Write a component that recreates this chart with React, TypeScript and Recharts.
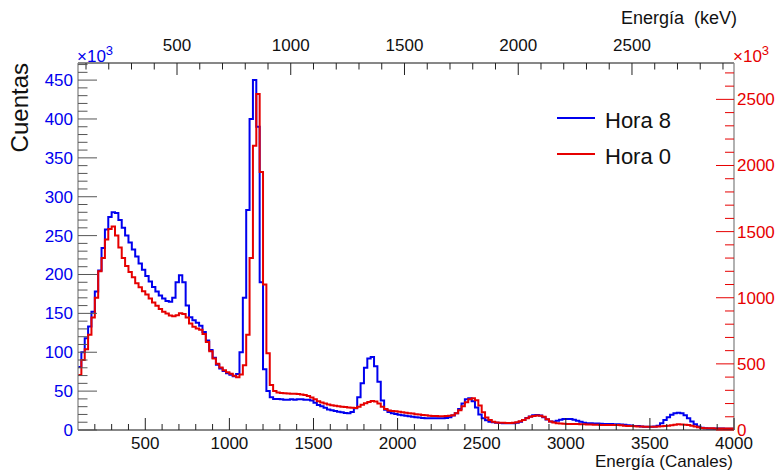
import React from 'react';
import { ComposedChart, Line, XAxis, YAxis } from 'recharts';

// Histogram bins: channel 100 .. 4000, 20 channels per bin
const BIN_START = 100;
const BIN_WIDTH = 20;
const X_MIN = 100;
const X_MAX = 4000;

// Hora 8 (left axis, x10^3 cuentas)
const hora8: number[] = [
  81, 100, 118, 133, 152, 178, 205, 234, 258, 274,
  280, 279, 270, 260, 250, 241, 232, 223, 214, 206,
  198, 191, 184, 178, 173, 169, 166, 165, 170, 190,
  199, 190, 160, 145, 141, 138, 134, 126, 115, 103,
  93, 84, 79, 76, 73, 71, 69, 72, 100, 170,
  283, 400, 450, 390, 190, 78, 50, 42, 40, 40,
  39.5, 39, 39, 39.5, 39, 39.5, 39.5, 39, 39, 38,
  35, 32, 30.5, 28.5, 26.5, 25.5, 24.5, 23.5, 22.7, 22,
  21.5, 23, 28, 42, 60, 80, 92, 94, 82, 62,
  38, 26, 23, 21.5, 20.5, 19.5, 19, 18.3, 17.6, 17,
  16.5, 16, 15.5, 15.2, 15, 15, 15, 15, 15, 15.5,
  16.5, 18.5, 21.5, 27, 34, 39.5, 40.7, 37, 29, 20,
  15, 12.5, 10.5, 10, 9.4, 9, 8.8, 8.6, 8.6, 8.6,
  9.4, 10.7, 13, 15.5, 17.5, 19, 19.3, 18.5, 16.5, 13.5,
  11, 10.5, 12, 13.2, 14, 14.3, 14, 13.2, 12, 10.5,
  9.4, 8.8, 8.6, 8.4, 8.2, 8, 7.8, 7.7, 7.6, 7.4,
  7.3, 7, 6.6, 6.2, 5.8, 5.3, 5, 4.6, 4.3, 4.2,
  4.3, 4.5, 5.5, 8.6, 13, 16.5, 19.5, 21.5, 22.3, 21.5,
  19, 15, 11, 7.5, 4.5, 2.8, 2.2, 2, 2, 1.9,
  1.8, 1.8, 1.7, 1.7, 1.6,
];

// Hora 0 (right axis, x10^3 cuentas)
const hora0: number[] = [
  416, 530, 610, 720, 850, 1000, 1200, 1300, 1440, 1520,
  1538, 1470, 1380, 1300, 1240, 1195, 1155, 1110, 1080, 1050,
  1025, 995, 965, 940, 915, 895, 880, 866, 860, 868,
  882, 878, 850, 805, 780, 768, 758, 725, 665, 595,
  540, 500, 472, 452, 437, 425, 410, 398, 420, 490,
  720, 1300, 2150, 2540, 1950, 1100, 580, 340, 295, 283,
  279, 277, 276, 275, 274, 272, 268, 265, 258, 245,
  232, 218, 207, 200, 193, 188, 184, 180, 176, 173,
  170, 168, 166, 175, 190, 202, 212, 220, 216, 200,
  176, 158, 148, 144, 141, 138, 135, 131, 127, 124,
  120, 117, 114, 111, 108, 106, 105, 104, 104, 106,
  108, 112, 126, 150, 180, 210, 232, 240, 225, 185,
  135, 95, 75, 62, 57, 55, 54, 53, 53, 54,
  58, 66, 76, 88, 100, 106, 110, 108, 100, 82,
  65, 56, 51, 49, 47, 46, 45, 45, 45, 44,
  43, 42, 41, 40, 39, 38, 38, 38, 38, 37,
  37, 35, 33, 31, 30, 28, 27, 26, 25, 25,
  25, 25, 26, 28, 30, 33, 36, 40, 43, 42,
  40, 37, 33, 27, 20, 15, 13, 13, 13, 12,
  12, 12, 12, 12, 12,
];

const LEFT_MAX = 472;
const RIGHT_MAX = 2775;

// Tick definitions
const bottomTicks: number[] = [];
for (let c = 200; c <= 4000; c += 100) bottomTicks.push(c);
const leftTicks: number[] = [];
for (let v = 0; v <= 470; v += 10) leftTicks.push(v);
const rightTicks: number[] = [];
for (let v = 0; v <= 2700; v += 100) rightTicks.push(v);
const kevTicks: number[] = [];
for (let k = 100; k <= 2900; k += 100) kevTicks.push(k);

// energy calibration (channel of 500 keV, keV per channel)
const CH_AT_500KEV = 688.6;
const KEV_PER_CH = 0.7394;
const chOfKev = (k: number) => CH_AT_500KEV + (k - 500) / KEV_PER_CH;
const kevOfCh = (c: number) => Math.round(((c - CH_AT_500KEV) * KEV_PER_CH + 500) / 100) * 100;
const topTicks = kevTicks.map(chOfKev);

const BLUE = '#0000ee';
const RED = '#e60000';
const FONT = '"Liberation Sans", Arial, Helvetica, sans-serif';

const data = hora8.map((v, i) => ({ ch: BIN_START + i * BIN_WIDTH, hora8: v, hora0: hora0[i] }));
data.push({ ch: X_MAX, hora8: hora8[hora8.length - 1], hora0: hora0[hora0.length - 1] });

const BottomTick = (p: any) => {
  const { x, y, payload } = p;
  const v = payload.value;
  const major = v % 500 === 0;
  return (
    <g>
      <line x1={x} x2={x} y1={y} y2={y - (major ? 12 : 6)} stroke="#222" strokeWidth={1} />
      {major && (
        <text x={x} y={y + 19} textAnchor="middle" fontSize={17} fontFamily={FONT} fill="#111">
          {v}
        </text>
      )}
    </g>
  );
};

const TopTick = (p: any) => {
  const { x, y, payload } = p;
  const k = kevOfCh(payload.value);
  const major = k % 500 === 0;
  return (
    <g>
      <line x1={x} x2={x} y1={y} y2={y + (major ? 12 : 6.5)} stroke="#222" strokeWidth={1} />
      {major && (
        <text x={x} y={y - 12} textAnchor="middle" fontSize={17} fontFamily={FONT} fill="#111">
          {k}
        </text>
      )}
    </g>
  );
};

const LeftTick = (p: any) => {
  const { x, y, payload } = p;
  const v = payload.value;
  const major = v % 50 === 0;
  return (
    <g>
      <line x1={x} x2={x + (major ? 19 : 9.5)} y1={y} y2={y} stroke="#555" strokeWidth={1} />
      {major && (
        <text x={x - 5} y={y + 6} textAnchor="end" fontSize={17} fontFamily={FONT} fill={BLUE}>
          {v}
        </text>
      )}
    </g>
  );
};

const RightTick = (p: any) => {
  const { x, y, payload } = p;
  const v = payload.value;
  const major = v % 500 === 0;
  return (
    <g>
      <line x1={x} x2={x - (major ? 18 : 9)} y1={y} y2={y} stroke={RED} strokeWidth={1} />
      {major && (
        <text x={x + 3} y={y + 6} textAnchor="start" fontSize={17} fontFamily={FONT} fill={RED}>
          {v}
        </text>
      )}
    </g>
  );
};

export default function App() {
  return (
    <div style={{ position: 'absolute', left: 0, top: 0, width: 777, height: 471, background: '#fff' }}>
      <ComposedChart width={777} height={471} data={data} margin={{ top: 0, right: 0, bottom: 0, left: 0 }}>
        <XAxis
          xAxisId="bottom"
          dataKey="ch"
          type="number"
          domain={[X_MIN, X_MAX]}
          allowDataOverflow
          orientation="bottom"
          height={41}
          ticks={bottomTicks}
          interval={0}
          tickSize={0}
          tickMargin={0}
          tickLine={false}
          tick={<BottomTick />}
          axisLine={{ stroke: '#111', strokeWidth: 1 }}
        />
        <XAxis
          xAxisId="top"
          dataKey="ch"
          type="number"
          domain={[X_MIN, X_MAX]}
          allowDataOverflow
          orientation="top"
          height={63}
          ticks={topTicks}
          interval={0}
          tickSize={0}
          tickMargin={0}
          tickLine={false}
          tick={<TopTick />}
          axisLine={{ stroke: '#111', strokeWidth: 1 }}
        />
        <YAxis
          yAxisId="left"
          orientation="left"
          type="number"
          domain={[0, LEFT_MAX]}
          allowDataOverflow
          width={78}
          ticks={leftTicks}
          interval={0}
          tickSize={0}
          tickMargin={0}
          tickLine={false}
          tick={<LeftTick />}
          axisLine={{ stroke: '#888', strokeWidth: 1.3 }}
        />
        <YAxis
          yAxisId="right"
          orientation="right"
          type="number"
          domain={[0, RIGHT_MAX]}
          allowDataOverflow
          width={43}
          ticks={rightTicks}
          interval={0}
          tickSize={0}
          tickMargin={0}
          tickLine={false}
          tick={<RightTick />}
          axisLine={{ stroke: '#888', strokeWidth: 1.3 }}
        />
        <Line
          xAxisId="bottom"
          yAxisId="left"
          dataKey="hora8"
          type="stepAfter"
          stroke={BLUE}
          strokeWidth={2}
          dot={false}
          activeDot={false}
          isAnimationActive={false}
        />
        <Line
          xAxisId="top"
          yAxisId="right"
          dataKey="hora0"
          type="stepAfter"
          stroke={RED}
          strokeWidth={2}
          dot={false}
          activeDot={false}
          isAnimationActive={false}
        />
      </ComposedChart>
      <svg
        width={777}
        height={471}
        style={{ position: 'absolute', left: 0, top: 0, pointerEvents: 'none' }}
        fontFamily={FONT}
      >
        <text transform="translate(28,63) rotate(-90)" textAnchor="end" fontSize={24} fill="#111">
          Cuentas
        </text>
        <text x={737} y={24} textAnchor="end" fontSize={18} fill="#111" style={{ whiteSpace: 'pre' }}>
          {'Energía  (keV)'}
        </text>
        <text x={733} y={467} textAnchor="end" fontSize={17} fill="#111">
          Energía (Canales)
        </text>
        <text x={77} y={62} fontSize={17} fill={BLUE}>
          ×10<tspan fontSize={13} dy={-7}>3</tspan>
        </text>
        <text x={733} y={62} fontSize={17} fill={RED}>
          ×10<tspan fontSize={13} dy={-7}>3</tspan>
        </text>
        <line x1={557} x2={595} y1={118} y2={118} stroke={BLUE} strokeWidth={2} />
        <text x={605} y={128} fontSize={22} fill="#111">
          Hora 8
        </text>
        <line x1={557} x2={595} y1={154} y2={154} stroke={RED} strokeWidth={2} />
        <text x={605} y={164} fontSize={22} fill="#111">
          Hora 0
        </text>
      </svg>
    </div>
  );
}
